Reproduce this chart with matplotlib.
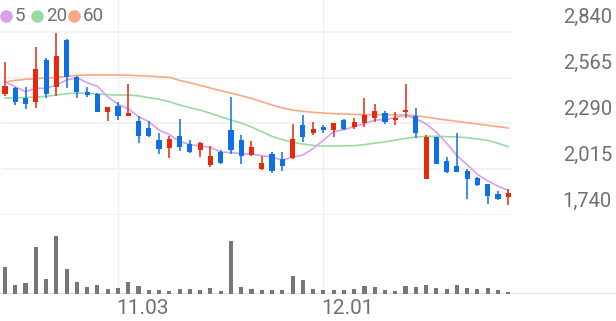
import matplotlib.pyplot as plt
import numpy as np

plt.rcParams['font.family'] = ['Roboto', 'DejaVu Sans']

# 일봉 데이터 (index 0..49)
opens = [2466, 2500, 2440, 2420, 2670, 2510, 2790, 2570, 2480, 2466,
         2360, 2394, 2334, 2306, 2264, 2192, 2144, 2212, 2166, 2130,
         2040, 2120, 2248, 2188, 2100, 2014, 2104, 2074, 2084, 2280,
         2230, 2270, 2250, 2310, 2270, 2294, 2324, 2350, 2310, 2356,
         2334, 1956, 2210, 2064, 2036, 2006, 1964, 1924, 1864, 1846]
highs = [2656, 2510, 2510, 2746, 2680, 2830, 2794, 2576, 2506, 2470,
         2390, 2416, 2526, 2336, 2304, 2230, 2214, 2314, 2190, 2176,
         2156, 2130, 2450, 2220, 2184, 2094, 2120, 2120, 2288, 2340,
         2296, 2280, 2294, 2314, 2324, 2440, 2404, 2364, 2356, 2526,
         2380, 2220, 2210, 2090, 2234, 2016, 1970, 1928, 1886, 1894]
lows = [2456, 2400, 2376, 2384, 2440, 2456, 2500, 2440, 2450, 2356,
        2306, 2310, 2334, 2170, 2206, 2104, 2080, 2124, 2110, 2090,
        2030, 2044, 2104, 2044, 2096, 2010, 1994, 2004, 2076, 2180,
        2220, 2234, 2210, 2250, 2256, 2270, 2296, 2284, 2280, 2324,
        2204, 1956, 2046, 1990, 2000, 1836, 1916, 1804, 1832, 1800]
closes = [2516, 2416, 2406, 2614, 2466, 2696, 2566, 2480, 2460, 2360,
          2386, 2334, 2352, 2216, 2214, 2136, 2196, 2150, 2120, 2170,
          2096, 2054, 2130, 2096, 2148, 2054, 2006, 2034, 2196, 2206,
          2254, 2250, 2294, 2254, 2300, 2340, 2364, 2296, 2324, 2370,
          2234, 2210, 2046, 1996, 2000, 1956, 1920, 1854, 1836, 1870]
volumes = [800, 270, 320, 1400, 440, 1750, 740, 370, 200, 260,
           140, 180, 370, 230, 130, 130, 100, 150, 140, 110,
           190, 100, 1600, 210, 150, 110, 110, 120, 530, 410,
           150, 120, 120, 120, 150, 250, 220, 120, 100, 250,
           220, 270, 170, 140, 270, 170, 140, 190, 120, 60]

ma5 = [2540, 2510, 2480, 2500, 2500, 2520, 2550, 2564, 2534, 2512,
       2450, 2404, 2378, 2330, 2300, 2250, 2223, 2182, 2163, 2154,
       2146, 2118, 2114, 2109, 2105, 2096, 2087, 2068, 2088, 2099,
       2139, 2188, 2240, 2252, 2270, 2288, 2310, 2311, 2325, 2339,
       2318, 2287, 2237, 2171, 2097, 2042, 1984, 1945, 1913, 1887]
ma20 = [2442, 2442, 2445, 2448, 2452, 2460, 2468, 2472, 2470, 2466,
        2462, 2460, 2460, 2455, 2444, 2435, 2420, 2400, 2384, 2370,
        2350, 2330, 2310, 2292, 2268, 2240, 2212, 2192, 2176, 2166,
        2158, 2154, 2154, 2155, 2156, 2162, 2172, 2178, 2190, 2200,
        2208, 2212, 2212, 2210, 2208, 2204, 2196, 2188, 2170, 2150]
ma60 = [2538, 2548, 2554, 2558, 2562, 2566, 2572, 2578, 2580, 2580,
        2580, 2580, 2579, 2576, 2574, 2570, 2566, 2548, 2534, 2518,
        2502, 2486, 2472, 2456, 2440, 2420, 2400, 2382, 2370, 2362,
        2356, 2352, 2348, 2346, 2344, 2342, 2342, 2342, 2341, 2340,
        2336, 2328, 2318, 2310, 2302, 2294, 2286, 2278, 2270, 2262]

price_ticks = [1740, 2015, 2290, 2565, 2840]
date_idx = [11, 31]
date_labels = ['11.03', '12.01']

RED = '#e6290c'
BLUE = '#0e6fe6'
GRID = '#f0f0f0'
TXT = '#707070'
ma_colors = ['#d9a0ee', '#98dba5', '#f9a886']

W, H = 616, 321
fig = plt.figure(figsize=(W / 100, H / 100), dpi=100)
ax = fig.add_axes([0, 1 - 215 / H, 1, 215 / H])
axv = fig.add_axes([0, 1 - 294 / H, 1, 79 / H])

x = np.arange(len(closes))
xlim = (-5 / 10.27, (W - 5) / 10.27)

# 가격 영역
for v in price_ticks:
    ax.plot([-0.25, 49.3], [v, v], color=GRID, lw=1.2, zorder=0)
    ax.annotate(f'{v:,}', xy=(1, v), xycoords=('axes fraction', 'data'),
                xytext=(-4, 14), textcoords='offset pixels',
                ha='right', va='center', fontsize=14.5, color=TXT)
for d in date_idx:
    ax.axvline(d, color=GRID, lw=1, zorder=0)
    axv.axvline(d, color=GRID, lw=1, zorder=0)

for m, c in zip([ma60, ma20, ma5], ma_colors[::-1]):
    ax.plot(x, m, color=c, lw=1.2, zorder=1)

o = np.array(opens)
c = np.array(closes)
cols = [RED if cc >= oo else BLUE for oo, cc in zip(o, c)]
ax.vlines(x, lows, highs, colors=cols, lw=1.1, zorder=2)
ax.bar(x, np.maximum(np.abs(c - o), 6), bottom=np.minimum(o, c),
       width=0.5, color=cols, zorder=3)

ax.set_xlim(*xlim)
ax.set_ylim(1740, 1740 + 1100 / 183.3 * 215)
ax.axis('off')

# 거래량
axv.bar(x, volumes, width=0.4, color='#777777', zorder=2)
axv.axhline(0, color='#e4e4e4', lw=1.6, zorder=1)
axv.set_xlim(*xlim)
axv.set_ylim(0, max(volumes) * 79 / 58.3)
axv.axis('off')
for d, lab in zip(date_idx, date_labels):
    axv.annotate(lab, xy=(d, 0), xytext=(-2, -14), textcoords='offset pixels',
                 ha='left', va='center', fontsize=15, color=TXT,
                 annotation_clip=False)

# 이동평균 범례
for px, lab, col in zip([6, 37, 74], ['5', '20', '60'], ma_colors):
    fig.add_artist(plt.Line2D([px / W], [1 - 16 / H], marker='o', markersize=8,
                              color=col, transform=fig.transFigure))
    fig.text((px + 9) / W, 1 - 16 / H, lab, ha='left', va='center',
             fontsize=13.5, color=TXT)

fig.savefig('out.png', dpi=100)
